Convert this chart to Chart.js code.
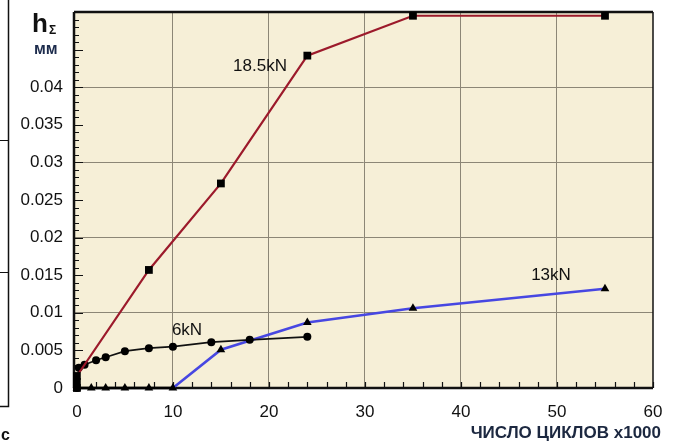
<!DOCTYPE html>
<html>
<head>
<meta charset="utf-8">
<script src="https://cdn.jsdelivr.net/npm/chart.js@4/dist/chart.umd.min.js"></script>
<style>
  html, body { margin: 0; padding: 0; background: #ffffff; }
  #wrap { width: 677px; height: 448px; position: relative; }
</style>
</head>
<body>
<div id="wrap"><canvas id="c" width="677" height="448"></canvas></div>
<script>
// ---- data ----
const xTickValues = [0, 10, 20, 30, 40, 50, 60];
const yTickValues = [0, 0.005, 0.01, 0.015, 0.02, 0.025, 0.03, 0.035, 0.04];

const cycles185 = [0, 0, 0, 7.5, 15, 24, 35, 55];
const h185      = [0, 0.0008, 0.0016, 0.0157, 0.0272, 0.0442, 0.0495, 0.0495];

const cycles6 = [0, 0.2, 0.8, 2, 3, 5, 7.5, 10, 14, 18, 24];
const h6      = [0, 0.0027, 0.0031, 0.0037, 0.0041, 0.0049, 0.0053, 0.0055, 0.0061, 0.0064, 0.0068];

const cycles13 = [0, 1.5, 3, 5, 7.5, 10, 15, 24, 35, 55];
const h13      = [0, 0, 0, 0, 0, 0, 0.0051, 0.0087, 0.0106, 0.0132];

const seriesNames = ['18.5kN', '6kN', '13kN'];
const labelAnchors = [[260, 66], [187, 330], [551, 275]];

const FONT = '"Liberation Sans", Arial, Helvetica, sans-serif';

const toPts = (xs, ys) => xs.map((v, i) => ({ x: v, y: ys[i] }));

const decor = {
  id: 'decor',
  beforeDraw(chart) {
    const { ctx, chartArea: a } = chart;
    ctx.save();
    ctx.fillStyle = '#f6efd7';
    ctx.fillRect(a.left, a.top, a.right - a.left, a.bottom - a.top);
    ctx.restore();
  },
  beforeDatasetsDraw(chart) {
    const { ctx, chartArea: a, scales: { x, y } } = chart;
    ctx.save();
    ctx.strokeStyle = '#111';
    ctx.lineWidth = 1.2;
    ctx.beginPath();
    for (let i = 0; i <= 50; i++) {
      const py = Math.round(y.getPixelForValue(i * 0.001)) + 0.5;
      const len = (i % 5 === 0) ? 9 : 5;
      ctx.moveTo(a.left, py); ctx.lineTo(a.left + len, py);
    }
    for (let i = 0; i <= 30; i++) {
      const px = Math.round(x.getPixelForValue(i * 2)) + 0.5;
      const len = 6;
      ctx.moveTo(px, a.bottom); ctx.lineTo(px, a.bottom - len);
    }
    ctx.stroke();
    ctx.strokeStyle = '#111';
    ctx.lineWidth = 1.5;
    ctx.beginPath();
    ctx.moveTo(a.right, a.top); ctx.lineTo(a.right, a.bottom);
    ctx.stroke();
    ctx.lineWidth = 2.5;
    ctx.beginPath();
    ctx.moveTo(a.left, a.top); ctx.lineTo(a.right, a.top);
    ctx.moveTo(a.left, a.top); ctx.lineTo(a.left, a.bottom);
    ctx.moveTo(a.left, a.bottom); ctx.lineTo(a.right, a.bottom);
    ctx.stroke();
    ctx.restore();
  },
  afterDraw(chart) {
    const { ctx } = chart;
    ctx.save();
    ctx.fillStyle = '#111';
    ctx.font = '17px ' + FONT;
    ctx.textAlign = 'center';
    ctx.textBaseline = 'middle';
    seriesNames.forEach((n, i) => ctx.fillText(n, labelAnchors[i][0], labelAnchors[i][1]));
    ctx.textAlign = 'left';
    ctx.textBaseline = 'alphabetic';
    ctx.font = 'bold 26px ' + FONT;
    ctx.fillText('h', 32, 32);
    ctx.font = 'bold 12px ' + FONT;
    ctx.fillText('Σ', 49, 34);
    ctx.fillStyle = '#1c2b4c';
    ctx.font = 'bold 16px ' + FONT;
    ctx.fillText('мм', 34, 54);
    ctx.fillStyle = '#1c2840';
    ctx.font = 'bold 17px ' + FONT;
    ctx.textAlign = 'right';
    ctx.fillText('ЧИСЛО ЦИКЛОВ x1000', 661, 438);
    ctx.strokeStyle = '#111';
    ctx.lineWidth = 1.5;
    ctx.beginPath();
    ctx.moveTo(8.5, 0); ctx.lineTo(8.5, 406.5); ctx.lineTo(0, 406.5);
    ctx.stroke();
    ctx.lineWidth = 1;
    ctx.beginPath();
    ctx.moveTo(0, 140.5); ctx.lineTo(8, 140.5);
    ctx.moveTo(0, 272.5); ctx.lineTo(8, 272.5);
    ctx.stroke();
    ctx.fillStyle = '#111';
    ctx.font = 'bold 16px ' + FONT;
    ctx.textAlign = 'left';
    ctx.fillText('c', 1, 440);
    ctx.restore();
  }
};

new Chart(document.getElementById('c'), {
  type: 'line',
  data: {
    datasets: [
      {
        label: seriesNames[0],
        data: toPts(cycles185, h185),
        borderColor: '#9c1a2b',
        borderWidth: 2.2,
        pointStyle: 'rect',
        pointRadius: 5.5,
        pointBackgroundColor: '#000',
        pointBorderColor: '#000',
        pointBorderWidth: 0,
        tension: 0,
        clip: false
      },
      {
        label: seriesNames[1],
        data: toPts(cycles6, h6),
        borderColor: '#111',
        borderWidth: 1.6,
        pointStyle: 'circle',
        pointRadius: 4,
        pointBackgroundColor: '#000',
        pointBorderColor: '#000',
        pointBorderWidth: 0,
        tension: 0,
        clip: false
      },
      {
        label: seriesNames[2],
        data: toPts(cycles13, h13),
        borderColor: '#4747e2',
        borderWidth: 2.6,
        segment: {
          borderColor: c => (c.p0.parsed.y === 0 && c.p1.parsed.y === 0) ? '#000' : '#4747e2'
        },
        pointStyle: 'triangle',
        pointRadius: 5,
        pointBackgroundColor: '#000',
        pointBorderColor: '#000',
        pointBorderWidth: 0,
        tension: 0,
        clip: false
      }
    ]
  },
  options: {
    responsive: false,
    animation: false,
    events: [],
    layout: { padding: { left: 0, right: 24, top: 12, bottom: 0 } },
    plugins: { legend: { display: false }, tooltip: { enabled: false }, title: { display: false } },
    scales: {
      x: {
        type: 'linear',
        min: -0.3,
        max: 60,
        afterBuildTicks: s => { s.ticks = xTickValues.map(v => ({ value: v })); },
        afterFit: s => { s.height = 60; s.paddingLeft = 0; s.paddingRight = 0; s.paddingTop = 0; s.paddingBottom = 0; },
        border: { display: false },
        grid: {
          drawTicks: false,
          lineWidth: 1,
          color: c => (c.tick && c.tick.value > 0 && c.tick.value < 60) ? '#8c8676' : 'rgba(0,0,0,0)'
        },
        ticks: {
          padding: 14,
          color: '#111',
          font: { family: FONT, size: 17 },
          maxRotation: 0,
          callback: v => String(v)
        }
      },
      y: {
        type: 'linear',
        min: 0,
        max: 0.05,
        afterBuildTicks: s => { s.ticks = yTickValues.map(v => ({ value: v })); },
        afterFit: s => { s.width = 74; s.paddingTop = 0; s.paddingBottom = 0; s.paddingLeft = 0; s.paddingRight = 0; },
        border: { display: false },
        grid: {
          drawTicks: false,
          lineWidth: 1,
          color: c => {
            const v = c.tick ? c.tick.value : 0;
            const k = Math.round(v / 0.005);
            return (k > 0 && k % 2 === 0) ? '#8c8676' : 'rgba(0,0,0,0)';
          }
        },
        ticks: {
          padding: 11,
          color: '#111',
          font: { family: FONT, size: 17 },
          callback: v => String(parseFloat(Number(v).toFixed(3)))
        }
      }
    }
  },
  plugins: [decor]
});
</script>
</body>
</html>
